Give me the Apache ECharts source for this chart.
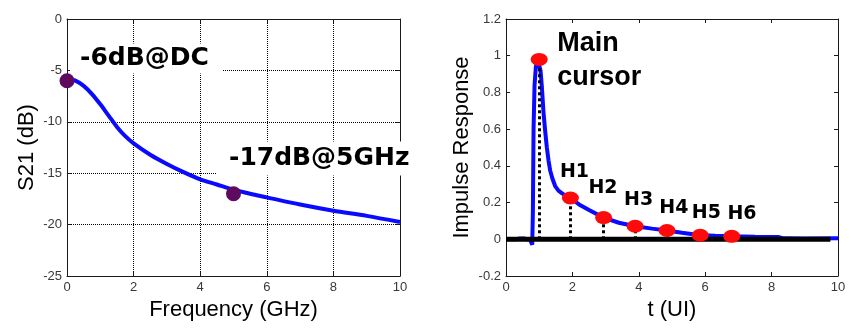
<!DOCTYPE html>
<html>
<head>
<meta charset="utf-8">
<script src="https://cdn.jsdelivr.net/npm/echarts@6/dist/echarts.min.js"></script>
<style>
  html, body { margin: 0; padding: 0; background: #fff; }
  #chart { width: 850px; height: 331px; }
</style>
</head>
<body>
<div id="chart"></div>
<script>
// Channel loss: S21 magnitude versus frequency
const freqGHz = [0, 0.25, 0.5, 0.75, 1, 1.25, 1.5, 1.75, 2, 2.5, 3, 3.5, 4, 4.5, 5, 5.5, 6, 7, 8, 9, 10];
const s21dB   = [-5.75, -6.0, -6.5, -7.3, -8.3, -9.4, -10.5, -11.4, -12.1, -13.2, -14.1, -14.9, -15.6, -16.1, -16.6, -17.0, -17.35, -18.05, -18.65, -19.15, -19.75];

// Annotated loss points
const lossMarkFreq = [0, 5];
const lossMarkdB   = [-6, -17];
const lossMarkText = ['-6dB@DC', '-17dB@5GHz'];

// Pulse response of the channel, time in unit intervals
const tUI   = [0, 0.3, 0.42, 0.48, 0.54, 0.62, 0.72, 0.76, 0.79, 0.81, 0.83, 0.86, 0.9, 0.95, 1.0, 1.04, 1.08, 1.13, 1.18, 1.23, 1.28, 1.33, 1.4, 1.48, 1.58, 1.69, 1.8, 1.94, 2.2, 2.5, 2.94, 3.4, 3.89, 4.4, 4.85, 5.3, 5.85, 6.3, 6.8, 7.5, 8.2, 8.35, 9.0, 10];
const pulse = [0, 0, 0.004, 0.012, 0.004, 0, 0, -0.01, -0.03, 0.15, 0.6, 0.84, 0.94, 0.98, 0.98, 0.92, 0.83, 0.69, 0.59, 0.5, 0.43, 0.375, 0.33, 0.29, 0.265, 0.25, 0.238, 0.225, 0.19, 0.16, 0.118, 0.09, 0.071, 0.058, 0.048, 0.036, 0.022, 0.019, 0.016, 0.014, 0.013, 0.005, 0.004, 0.006];

// Sampled cursors (main cursor and post-cursors)
const cursorT    = [1.0, 1.94, 2.94, 3.89, 4.85, 5.85, 6.8];
const cursorH    = [0.98, 0.225, 0.118, 0.071, 0.048, 0.022, 0.016];
const cursorText = ['Main\ncursor', 'H1', 'H2', 'H3', 'H4', 'H5', 'H6'];

// Zero reference line extent
const zeroLineT = [0, 9.77];

// Axis ranges
const freqRange  = { min: 0, max: 10, interval: 2 };
const lossRange  = { min: -25, max: 0, interval: 5 };
const timeRange  = { min: 0, max: 10, interval: 2 };
const pulseRange = { min: -0.2, max: 1.2, interval: 0.2 };

const FONT = 'Arial, "Liberation Sans", Helvetica, sans-serif';
const WIDE_BOLD = '"DejaVu Sans", Verdana, sans-serif';
const FRAME = '#1a1a1a';

function mainAxis(gridIndex, range, position, name, nameGap, dotted) {
  return Object.assign({
    gridIndex, type: 'value', position,
    axisLine: { show: true, onZero: false, lineStyle: { color: FRAME, width: 1 } },
    axisTick: { show: true, inside: true, length: 4, lineStyle: { color: FRAME } },
    axisLabel: { show: true, color: '#383838', fontSize: 13, fontFamily: FONT, margin: 5,
                 showMinLabel: true, showMaxLabel: true, hideOverlap: false },
    splitLine: dotted ? { show: true, lineStyle: { type: 'dotted', color: '#000', width: 1 } } : { show: false },
    name, nameLocation: 'middle', nameGap,
    nameTextStyle: { fontSize: 22, fontFamily: FONT, color: '#000' }
  }, range);
}
function mirrorAxis(gridIndex, range, position) {
  return Object.assign({
    gridIndex, type: 'value', position,
    axisLine: { show: true, onZero: false, lineStyle: { color: FRAME, width: 1 } },
    axisTick: { show: true, inside: true, length: 4, lineStyle: { color: FRAME } },
    axisLabel: { show: false },
    splitLine: { show: false }
  }, range);
}

// Label placement relative to each marker centre
const lossLabelLayout = [
  { offset: [3, -22.3], padding: [1, 14, 4, 10] },
  { offset: [-16.5, -35.3], padding: [3, 3, 6, 12] }
];
const cursorLabelLayout = [
  [18, 1.4], [4.1, -26.4], [-0.6, -29.8], [3.4, -26.4], [6.8, -22.6], [6.1, -22.4], [10.2, -21.8]
];

const chart = echarts.init(document.getElementById('chart'), null, { renderer: 'canvas' });

chart.setOption({
  animation: false,
  backgroundColor: '#fff',
  grid: [
    { left: 67, top: 19, width: 333, height: 257, outerBoundsMode: 'none' },
    { left: 506, top: 19, width: 332, height: 257, outerBoundsMode: 'none' }
  ],
  xAxis: [
    mainAxis(0, freqRange, 'bottom', 'Frequency (GHz)', 22, true),
    mirrorAxis(0, freqRange, 'top'),
    mainAxis(1, timeRange, 'bottom', 't (UI)', 22, false),
    mirrorAxis(1, timeRange, 'top')
  ],
  yAxis: [
    mainAxis(0, lossRange, 'left', 'S21 (dB)', 29, true),
    mirrorAxis(0, lossRange, 'right'),
    mainAxis(1, pulseRange, 'left', 'Impulse Response', 33, false),
    mirrorAxis(1, pulseRange, 'right')
  ],
  series: [
    {
      type: 'line', xAxisIndex: 0, yAxisIndex: 0, z: 2,
      data: freqGHz.map((f, i) => [f, s21dB[i]]),
      showSymbol: false, smooth: 0.3,
      lineStyle: { color: '#0a0aff', width: 4 }
    },
    {
      type: 'scatter', xAxisIndex: 0, yAxisIndex: 0, z: 6,
      symbol: 'circle', symbolSize: 15,
      itemStyle: { color: '#5e0a5e', opacity: 1 },
      data: lossMarkFreq.map((f, i) => ({
        value: [f, lossMarkdB[i]],
        label: {
          show: true, position: 'inside', formatter: lossMarkText[i],
          align: 'left', verticalAlign: 'middle',
          offset: lossLabelLayout[i].offset,
          padding: lossLabelLayout[i].padding,
          backgroundColor: '#fff', opacity: 1,
          fontFamily: WIDE_BOLD, fontWeight: 'bold', fontSize: 25, lineHeight: 25, color: '#000'
        }
      }))
    },
    {
      type: 'line', xAxisIndex: 2, yAxisIndex: 2, z: 2,
      data: tUI.map((t, i) => [t, pulse[i]]),
      showSymbol: false,
      lineStyle: { color: '#0a0aff', width: 4 }
    },
    {
      type: 'line', xAxisIndex: 2, yAxisIndex: 2, z: 3,
      data: zeroLineT.map(t => [t, 0]),
      showSymbol: false,
      lineStyle: { color: '#000', width: 5 },
      markLine: {
        silent: true, z: 4, symbol: ['none', 'none'], label: { show: false },
        lineStyle: { type: 'dotted', color: '#000', width: 3 },
        data: cursorT.map((t, i) => [{ coord: [t, 0] }, { coord: [t, cursorH[i]] }])
      }
    },
    {
      type: 'scatter', xAxisIndex: 2, yAxisIndex: 2, z: 6,
      symbol: 'circle', symbolSize: [17, 13],
      itemStyle: { color: '#ff0a0a', opacity: 1 },
      data: cursorT.map((t, i) => ({
        value: [t, cursorH[i]],
        label: i === 0 ? {
          show: true, position: 'inside', formatter: cursorText[i],
          align: 'left', verticalAlign: 'middle', offset: cursorLabelLayout[i], opacity: 1,
          fontFamily: FONT, fontWeight: 'bold', fontSize: 27, lineHeight: 34, color: '#000'
        } : {
          show: true, position: 'inside', formatter: cursorText[i],
          align: 'center', verticalAlign: 'middle', offset: cursorLabelLayout[i], opacity: 1,
          fontFamily: WIDE_BOLD, fontWeight: 'bold', fontSize: 19, lineHeight: 19, color: '#000'
        }
      }))
    }
  ]
});
</script>
</body>
</html>
